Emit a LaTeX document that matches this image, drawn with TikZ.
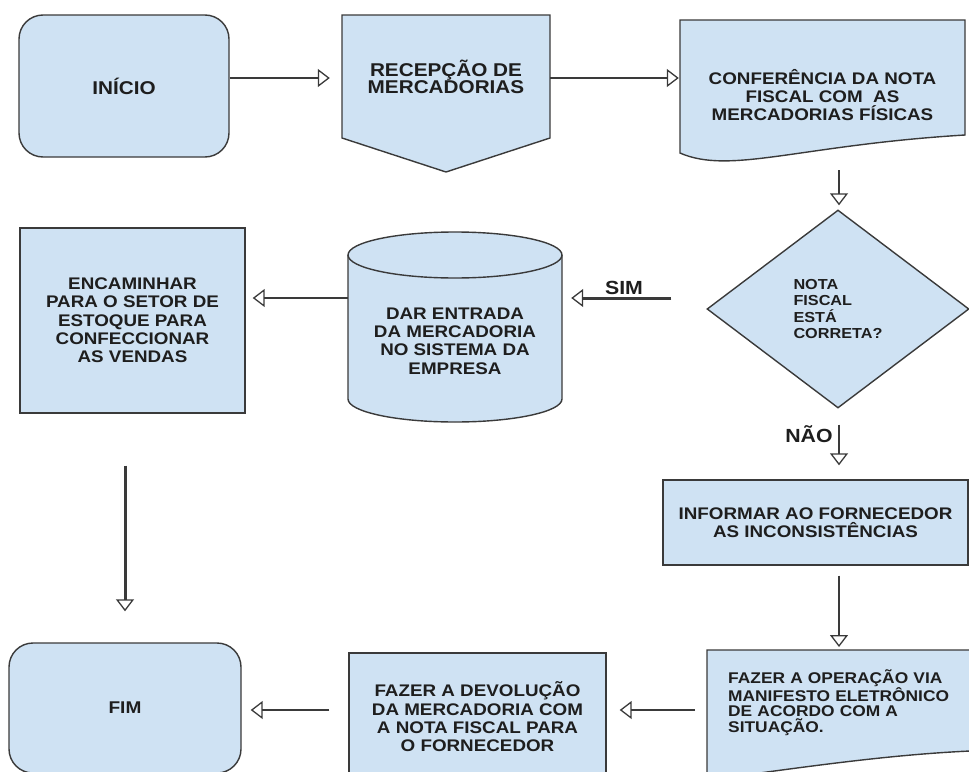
\documentclass[tikz,border=0pt]{standalone}
\usepackage{fontspec}
\setmainfont{Liberation Sans}[FakeStretch=1.12]
\usetikzlibrary{arrows.meta, positioning, shapes.geometric, calc}

\definecolor{boxblue}{RGB}{207,226,243}
\definecolor{edgegray}{RGB}{58,58,58}
\definecolor{inkgray}{RGB}{30,30,30}

\tikzset{
	base/.style={font=\bfseries\fontsize{16.8}{18.3}\selectfont, text=inkgray, align=center, inner sep=0pt},
	boxline/.style={draw=edgegray, fill=boxblue, line width=1.4pt},
	term/.style={base, boxline, rectangle, rounded corners=24pt},
	proc/.style={base, boxline, rectangle},
	dec/.style={base, boxline, diamond, align=left, font=\bfseries\fontsize{14.5}{16.5}\selectfont},
	txt/.style={base},
	lbl/.style={text=inkgray, font=\bfseries\fontsize{19}{19}\selectfont, inner sep=0pt},
	arr/.style={draw=edgegray, line width=1.3pt, -{Triangle[open, length=12pt, width=18pt, line width=1.3pt]}},
	thickarr/.style={arr, line width=3pt},
}

\begin{document}
\begin{tikzpicture}[x=1pt, y=-1pt]
	\useasboundingbox (0,0) rectangle (969,771);
	\clip (0,0) rectangle (969,771);

	% shapes drawn by hand
	\draw[boxline] (342,15) -- (550,15) -- (550,138) -- (446,172) -- (342,138) -- cycle;
	\draw[boxline] (680,20) -- (965,20) -- (965,135) .. controls (800,145) and (730,175) .. (680,153) -- cycle;
	\draw[boxline] (348,255) -- (348,399) arc[start angle=180, end angle=360, x radius=107pt, y radius=23pt]
		-- (562,255) arc[start angle=0, end angle=180, x radius=107pt, y radius=23pt] -- cycle;
	\draw[boxline, fill=none] (348,255) arc[start angle=180, end angle=360, x radius=107pt, y radius=23pt];
	\draw[boxline] (707,650) -- (1000,650) -- (1000,750) .. controls (900,752) and (800,768) .. (707,780) -- cycle;

	% nodes
	\node[term, minimum width=210, minimum height=142, font=\bfseries\fontsize{18.5}{19}\selectfont] (ini) at (124,86) {INÍCIO};
	\node[txt, minimum width=208, font=\bfseries\fontsize{18.5}{17.5}\selectfont] (rec) at (446,77) {RECEPÇÃO DE\\MERCADORIAS};
	\node[txt, minimum width=285, minimum height=150] (conf) at (822.5,95) {CONFERÊNCIA DA NOTA\\FISCAL COM~~AS\\MERCADORIAS FÍSICAS};
	\node[dec, minimum width=262, minimum height=198] (diam) at (838,309) {NOTA\\FISCAL\\ESTÁ\\CORRETA?};
	\node[txt, minimum width=214] (cyl) at (455,341) {DAR ENTRADA\\DA MERCADORIA\\NO SISTEMA DA\\EMPRESA};
	\node[proc, minimum width=225, minimum height=185] (enc) at (132.5,320.5) {ENCAMINHAR\\PARA O SETOR DE\\ESTOQUE PARA\\CONFECCIONAR\\AS VENDAS};
	\node[proc, minimum width=305, minimum height=85] (inf) at (815.5,522.5) {INFORMAR AO FORNECEDOR\\AS INCONSISTÊNCIAS};
	\node[txt, anchor=north west, align=left, inner xsep=21pt, text width=241pt,
		font=\bfseries\fontsize{15.5}{15.8}\selectfont] (op) at (707,669) {FAZER A OPERAÇÃO VIA\\MANIFESTO ELETRÔNICO\\DE ACORDO COM A\\SITUAÇÃO.};
	\node[proc, minimum width=257, minimum height=128] (dev) at (477.5,717) {FAZER A DEVOLUÇÃO\\DA MERCADORIA COM\\A NOTA FISCAL PARA\\O FORNECEDOR};
	\node[term, minimum width=232, minimum height=130, font=\bfseries\fontsize{17}{17}\selectfont] (fim) at (125,708) {FIM};

	\node[lbl] (sim) at (624,288) {SIM};
	\node[lbl] (nao) at (809,434) {NÃO};

	% connectors
	\coordinate (toprow) at (0,78);
	\coordinate (midrow) at (0,298);
	\coordinate (botrow) at (0,710);
	\coordinate (rcol) at (839,0);

	\draw[arr, shorten >=12pt] (ini.east |- toprow) -- (rec.west |- toprow);
	\draw[arr, shorten >=1pt] (rec.east |- toprow) -- (conf.west |- toprow);
	\draw[arr, shorten <=0pt, shorten >=4pt] (rcol |- conf.south) -- (rcol |- diam.north);
	\draw[thickarr, shorten <=35pt, shorten >=9pt] (diam.west |- midrow) -- (cyl.east |- midrow);
	\draw[arr, shorten >=7pt] (cyl.west |- midrow) -- (enc.east |- midrow);
	\draw[thickarr, shorten <=52pt, shorten >=31pt] (fim.north |- enc.south) -- (fim.north);
	\draw[arr, shorten <=16pt, shorten >=14pt] (rcol |- diam.south) -- (rcol |- inf.north);
	\draw[arr, shorten <=10pt, shorten >=22pt] (rcol |- inf.south) -- (rcol |- op.north);
	\draw[arr, shorten <=12pt, shorten >=13pt] (op.west |- botrow) -- (dev.east |- botrow);
	\draw[arr, shorten <=19pt, shorten >=9pt] (dev.west |- botrow) -- (fim.east |- botrow);
\end{tikzpicture}
\end{document}
